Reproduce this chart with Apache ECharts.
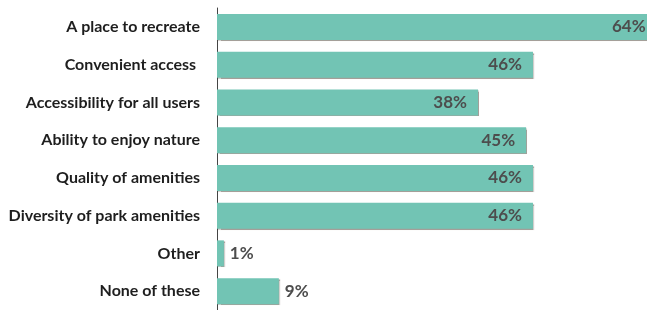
<!DOCTYPE html>
<html>
<head>
<meta charset="utf-8">
<script src="https://cdn.jsdelivr.net/npm/echarts@6/dist/echarts.min.js"></script>
<style>
  html, body { margin: 0; padding: 0; background: #fff; }
  #chart { width: 647px; height: 310px; }
</style>
</head>
<body>
<div id="chart"></div>
<script>
// categories, top to bottom
var categories = [
    'A place to recreate',
    'Convenient access ',
    'Accessibility for all users',
    'Ability to enjoy nature',
    'Quality of amenities',
    'Diversity of park amenities',
    'Other',
    'None of these'
];
var values = [64, 46, 38, 45, 46, 46, 1, 9];

var chart = echarts.init(document.getElementById('chart'));

chart.setOption({
    animation: false,
    grid: { left: 217, right: 0, top: 8, bottom: -3 },
    xAxis: {
        type: 'value',
        min: 0,
        // the longest bar runs a little past the right edge in the original
        max: 62.6,
        show: false
    },
    yAxis: {
        type: 'category',
        inverse: true,
        data: categories,
        axisLine: { show: true, lineStyle: { color: '#444', width: 1 } },
        axisTick: { show: false },
        axisLabel: {
            margin: 17,
            color: '#1e1e1e',
            fontFamily: 'Lato',
            fontWeight: 'bold',
            fontSize: 16
        }
    },
    series: [{
        type: 'bar',
        clip: false,
        barWidth: 26,
        data: values.map(function (v) {
            var small = v < 20;
            return {
                value: v,
                label: {
                    position: small ? 'right' : 'insideRight',
                    distance: small ? 6 : 11
                }
            };
        }),
        itemStyle: {
            color: '#72c4b4',
            shadowColor: 'rgba(90, 80, 70, 0.55)',
            shadowOffsetX: 1,
            shadowOffsetY: 1,
            shadowBlur: 1
        },
        label: {
            show: true,
            formatter: '{c}%',
            color: '#4d4d4d',
            fontFamily: 'Lato',
            fontWeight: 'bold',
            fontSize: 17
        }
    }]
});
</script>
</body>
</html>
